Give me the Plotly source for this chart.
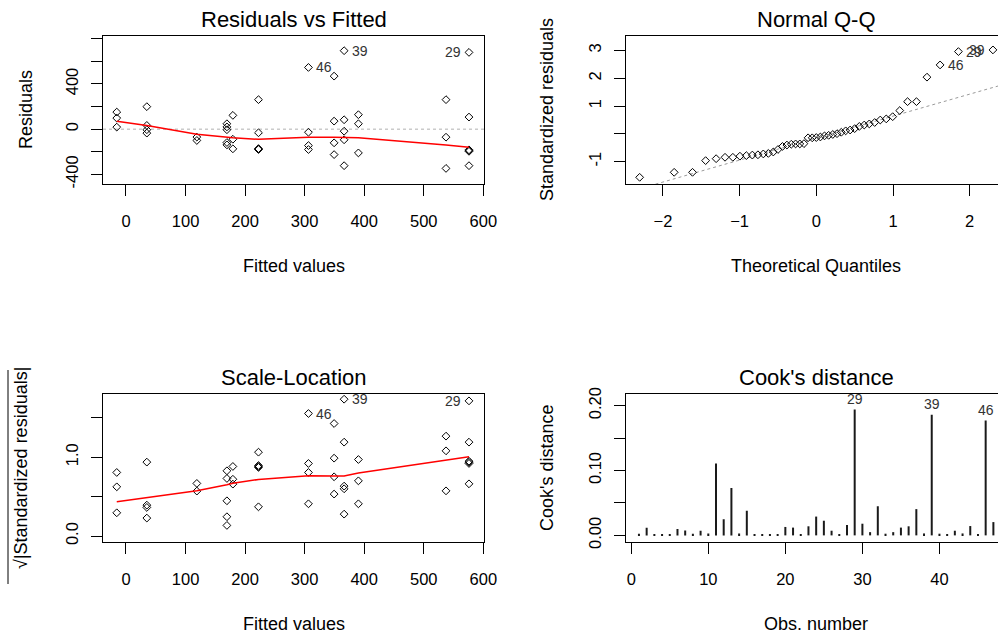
import plotly.graph_objects as go

W, H = 998, 636
FONT = "Liberation Sans, Arial, sans-serif"

# ---------------- data ----------------
# Residuals vs Fitted / Scale-Location (one entry per observation point)
fitted = [-15.5, -15.5, -15.5,
          35, 35, 35, 35,
          119, 119,
          169.5, 169.5, 169.5, 169.5, 169.5,
          179.5, 179.5, 179.5,
          222.5, 222.5, 222.5, 222.5, 222.5,
          306.4, 306.4, 306.4, 306.4,
          349.5, 349.5, 349.5, 349.5,
          366.3, 366.3, 366.3, 366.3, 366.3,
          390.3, 390.3, 390.3,
          537.4, 537.4, 537.4,
          576, 576, 576, 576, 576, 576]
residuals = [151, 98, 18,
             199, 33, -5, -35,
             -70, -100,
             48, 20, -5, -118, -139,
             122, -89, -174,
             261, -32, -172, -176, -180,
             546, -27, -145, -180,
             469, 71, -121, -225,
             694, 83, -18, -94, -323,
             128, 48, -210,
             261, -71, -347,
             679, 107, -183, -190, -196, -323]
sqrt_std_resid = [0.806, 0.624, 0.295,
                  0.937, 0.392, 0.228, 0.363,
                  0.57, 0.667,
                  0.447, 0.245, 0.135, 0.73, 0.827,
                  0.72, 0.658, 0.882,
                  1.063, 0.371, 0.87, 0.88, 0.894,
                  1.553, 0.409, 0.806, 0.92,
                  1.426, 0.532, 0.751, 0.987,
                  1.734, 0.633, 0.278, 0.599, 1.19,
                  0.70, 0.409, 0.97,
                  1.08, 0.573, 1.266,
                  1.713, 0.662, 0.92, 0.935, 0.949, 1.19]
point_ids = {22: "46", 30: "39", 41: "29"}
id_side = {22: "right", 30: "right", 41: "left"}

# smoother (red lines)
smooth_x = [-15.5, 35, 119, 169.5, 179.5, 222.5, 306.4, 349.5, 366.3, 390.3, 537.4, 576]
smooth_resid = [71, 33, -45, -71, -77, -90, -71, -71, -71, -77, -140, -160]
smooth_scale = [0.434, 0.49, 0.575, 0.65, 0.67, 0.717, 0.765, 0.76, 0.76, 0.80, 0.965, 1.004]

# Normal Q-Q
theoretical_q = [-2.303, -1.853, -1.614, -1.443, -1.306, -1.190, -1.088, -0.996, -0.912, -0.834,
                 -0.761, -0.691, -0.625, -0.561, -0.500, -0.441, -0.383, -0.326, -0.270, -0.215,
                 -0.161, -0.107, -0.053, 0.000, 0.053, 0.107, 0.161, 0.215, 0.270, 0.326,
                 0.383, 0.441, 0.500, 0.561, 0.625, 0.691, 0.761, 0.834, 0.912, 0.996,
                 1.088, 1.190, 1.306, 1.443, 1.614, 1.853, 2.303]
sample_q = [-1.56, -1.38, -1.38, -0.96, -0.89, -0.84, -0.84, -0.80, -0.78, -0.76,
            -0.75, -0.72, -0.70, -0.65, -0.56, -0.45, -0.40, -0.37, -0.36, -0.36,
            -0.35, -0.14, -0.14, -0.13, -0.11, -0.07, -0.05, -0.02, 0.01, 0.06,
            0.11, 0.14, 0.19, 0.27, 0.32, 0.36, 0.41, 0.50, 0.54, 0.62,
            0.84, 1.16, 1.16, 2.04, 2.48, 2.96, 3.02]
qq_ids = {44: "46", 45: "29", 46: "39"}
qq_side = {44: "right", 45: "right", 46: "left"}
qq_line_intercept = -0.15
qq_line_slope = 0.79

# Cook's distance
obs_number = list(range(1, 48))
cooks_d = [0.0026, 0.0118, 0.0015, 0.0015, 0.0015, 0.0097, 0.0077, 0.0026, 0.0072, 0.003,
           0.111, 0.025, 0.073, 0.003, 0.038, 0.001, 0.001, 0.001, 0.001, 0.013,
           0.012, 0.0015, 0.014, 0.029, 0.0226, 0.0072, 0.002, 0.016, 0.194, 0.018,
           0.005, 0.045, 0.0026, 0.005, 0.012, 0.014, 0.0405, 0.003, 0.186, 0.0026,
           0.002, 0.0072, 0.003, 0.0144, 0.0015, 0.177, 0.0205]
cook_ids = {29: "29", 39: "39", 46: "46"}

# ---------------- figure ----------------
fig = go.Figure()
mk = dict(symbol="diamond-open", size=6, color="black", line=dict(width=1, color="black"))
red = dict(color="red", width=1.5)

fig.add_trace(go.Scatter(x=fitted, y=residuals, mode="markers", marker=mk, xaxis="x", yaxis="y"))
fig.add_trace(go.Scatter(x=smooth_x, y=smooth_resid, mode="lines", line=red, xaxis="x", yaxis="y"))

qq_line_x = [-3, 3]
qq_line_y = [qq_line_intercept + qq_line_slope * v for v in qq_line_x]
fig.add_trace(go.Scatter(x=qq_line_x, y=qq_line_y, mode="lines",
                         line=dict(color="#9a9a9a", width=1, dash="dot"), xaxis="x2", yaxis="y2"))
fig.add_trace(go.Scatter(x=theoretical_q, y=sample_q, mode="markers", marker=mk, xaxis="x2", yaxis="y2"))

fig.add_trace(go.Scatter(x=fitted, y=sqrt_std_resid, mode="markers", marker=mk, xaxis="x3", yaxis="y3"))
fig.add_trace(go.Scatter(x=smooth_x, y=smooth_scale, mode="lines", line=red, xaxis="x3", yaxis="y3"))

fig.add_trace(go.Bar(x=obs_number, y=cooks_d, width=0.26, marker=dict(color="#1a1a1a", line=dict(width=0)),
                     xaxis="x4", yaxis="y4"))

xL = [103 / W, 484 / W]
xR = [625.7 / W, 1.0]
yT = [1 - 184 / H, 1 - 36 / H]
yB = [1 - 542 / H, 1 - 394 / H]

tickfont = dict(family=FONT, size=16.5, color="black")
common = dict(showgrid=False, zeroline=False, showline=True, linecolor="black", linewidth=1,
              ticks="outside", ticklen=11, tickwidth=1, tickcolor="black", tickfont=tickfont,
              automargin=False)

fig.update_layout(
    width=W, height=H, margin=dict(l=0, r=0, t=0, b=0, pad=0, autoexpand=False),
    paper_bgcolor="white", plot_bgcolor="white", showlegend=False,
    font=dict(family=FONT, color="black"),
    xaxis=dict(domain=xL, anchor="y", range=[-38.6, 601.2], tickvals=[0, 100, 200, 300, 400, 500, 600],
               mirror=True, ticklabelstandoff=11, **common),
    yaxis=dict(domain=yT, anchor="x", range=[-485, 824], tickvals=[-400, -200, 0, 200, 400, 600, 800],
               ticktext=["-400", "", "0", "", "400", "", ""], tickangle=-90, mirror=True,
               ticklabelstandoff=6, **common),
    xaxis2=dict(domain=xR, anchor="y2", range=[-2.485, 2.369], tickvals=[-2, -1, 0, 1, 2],
                mirror=True, ticklabelstandoff=11, **common),
    yaxis2=dict(domain=yT, anchor="x2", range=[-1.80, 3.52], tickvals=[-1, 0, 1, 2, 3],
                ticktext=["-1", "", "1", "2", "3"], tickangle=-90, mirror=False,
                ticklabelstandoff=6, **common),
    xaxis3=dict(domain=xL, anchor="y3", range=[-38.6, 601.2], tickvals=[0, 100, 200, 300, 400, 500, 600],
                mirror=True, ticklabelstandoff=11, **common),
    yaxis3=dict(domain=yB, anchor="x3", range=[-0.075, 1.80], tickvals=[0, 0.5, 1.0, 1.5],
                ticktext=["0.0", "", "1.0", ""], tickangle=-90, mirror=True,
                ticklabelstandoff=6, **common),
    xaxis4=dict(domain=xR, anchor="y4", range=[-0.72, 47.6], tickvals=[0, 10, 20, 30, 40],
                mirror=True, ticklabelstandoff=11, **common),
    yaxis4=dict(domain=yB, anchor="x4", range=[-0.0102, 0.218], tickvals=[0, 0.05, 0.10, 0.15, 0.20],
                ticktext=["0.00", "", "0.10", "", "0.20"], tickangle=-90, mirror=False,
                ticklabelstandoff=6, **common),
)

# dotted zero reference in Residuals vs Fitted
fig.add_shape(type="line", xref="x domain", yref="y", x0=0, x1=1, y0=0, y1=0,
              line=dict(color="#b0b0b0", width=1, dash="dot"), layer="below")


def ann(text, x, y, size, angle=0):
    fig.add_annotation(text=text, x=x / W, y=1 - y / H, xref="paper", yref="paper", showarrow=False,
                       font=dict(family=FONT, size=size, color="black"), textangle=angle,
                       xanchor="center", yanchor="middle")


# titles
ann("Residuals vs Fitted", 293.5, 19, 22)
ann("Normal Q-Q", 816.4, 19, 22)
ann("Scale-Location", 293.5, 377, 22)
ann("Cook's distance", 816.4, 377, 22)
# axis labels
ann("Fitted values", 293.5, 266, 18)
ann("Theoretical Quantiles", 816.4, 266, 18)
ann("Fitted values", 293.5, 624, 18)
ann("Obs. number", 816.4, 624, 18)
ann("Residuals", 26, 110, 18, -90)
ann("Standardized residuals", 547, 110, 18, -90)
ann("√|Standardized residuals|", 21, 468, 18, -90)
ann("Cook's distance", 547, 468, 18, -90)
# overline of the square root
fig.add_shape(type="line", xref="paper", yref="paper", x0=8 / W, x1=8 / W,
              y0=1 - 370 / H, y1=1 - 584 / H, line=dict(color="black", width=1))

idfont = dict(family=FONT, size=14, color="#333333")


def id_label(text, x, y, side, xa, ya):
    fig.add_annotation(text=text, x=x, y=y, xref=xa, yref=ya, showarrow=False, font=idfont,
                       xanchor="left" if side == "right" else "right", yanchor="middle",
                       xshift=6 if side == "right" else -6)


for i, t in point_ids.items():
    id_label(t, fitted[i], residuals[i], id_side[i], "x", "y")
    id_label(t, fitted[i], sqrt_std_resid[i], id_side[i], "x3", "y3")
for i, t in qq_ids.items():
    id_label(t, theoretical_q[i], sample_q[i], qq_side[i], "x2", "y2")
for o, t in cook_ids.items():
    fig.add_annotation(text=t, x=o, y=cooks_d[o - 1], xref="x4", yref="y4", showarrow=False,
                       font=idfont, xanchor="center", yanchor="bottom", yshift=1)

fig.write_html("out.html", config={"displayModeBar": False},
               post_script="document.body.style.margin='0';document.body.style.overflow='hidden';")
